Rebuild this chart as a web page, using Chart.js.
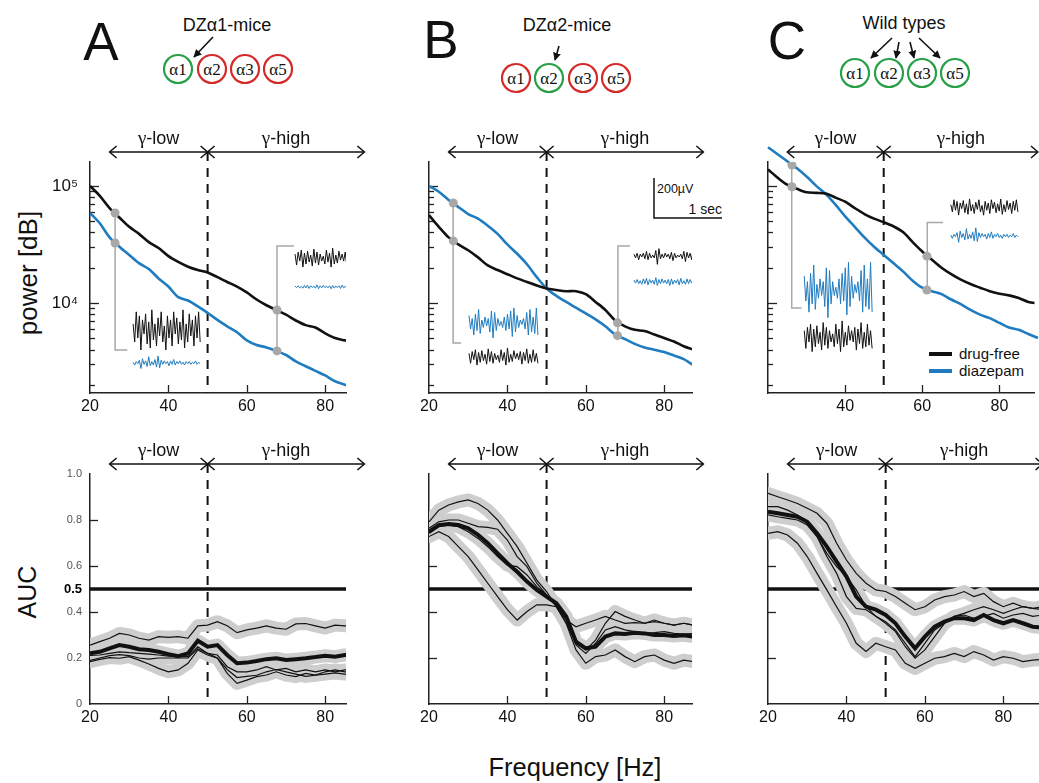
<!DOCTYPE html>
<html>
<head>
<meta charset="utf-8">
<script src="https://cdn.jsdelivr.net/npm/chart.js@4.4.1/dist/chart.umd.min.js"></script>
<style>
  html, body { margin: 0; padding: 0; background: #fff; }
  #fig { position: relative; width: 1039px; height: 783px; overflow: hidden; }
  #fig canvas { position: absolute; }
  #fig svg { position: absolute; left: 0; top: 0; }
</style>
</head>
<body>
<div id="fig">
<svg width="1039" height="783" xmlns="http://www.w3.org/2000/svg">
  <defs>
    <marker id="ah" viewBox="0 0 10 10" refX="9" refY="5" markerWidth="8" markerHeight="8" orient="auto" markerUnits="userSpaceOnUse">
      <path d="M0,0 L10,5 L0,10 z" fill="#111"/>
    </marker>
  </defs>
  <g font-family="'Liberation Sans', Arial, sans-serif" fill="#111">
    <text x="101" y="60" font-size="53" text-anchor="middle">A</text>
    <text x="441" y="58" font-size="53" text-anchor="middle">B</text>
    <text x="787" y="59" font-size="53" text-anchor="middle">C</text>
    <text x="227" y="31" font-size="18" text-anchor="middle">DZα1-mice</text>
    <text x="567" y="31" font-size="18" text-anchor="middle">DZα2-mice</text>
    <text x="904" y="29" font-size="18" text-anchor="middle">Wild types</text>
    <text transform="translate(37,273) rotate(-90)" font-size="26" text-anchor="middle">power [dB]</text>
    <text transform="translate(36,592) rotate(-90)" font-size="25" text-anchor="middle">AUC</text>
    <text x="575" y="776" font-size="25.5" text-anchor="middle">Frequency [Hz]</text>
    <!-- scale bar (panel B) -->
    <path d="M654,178 V218 H722" fill="none" stroke="#111" stroke-width="1.5"/>
    <text x="657" y="193" font-size="12.5">200µV</text>
    <text x="722" y="214" font-size="14" text-anchor="end">1 sec</text>
    <!-- legend (panel C) -->
    <line x1="929" y1="354" x2="952" y2="354" stroke="#111" stroke-width="4"/>
    <line x1="929" y1="371" x2="952" y2="371" stroke="#1f7cc0" stroke-width="4"/>
    <text x="959" y="359" font-size="15">drug-free</text>
    <text x="959" y="376" font-size="15">diazepam</text>
  </g>
  <g fill="#fff" stroke-width="2.2">
    <circle cx="178" cy="69" r="14" stroke="#27a047"/>
    <circle cx="212" cy="69" r="14" stroke="#d42a2a"/>
    <circle cx="245" cy="69" r="14" stroke="#d42a2a"/>
    <circle cx="278" cy="69" r="14" stroke="#d42a2a"/>
    <circle cx="516" cy="78" r="14" stroke="#d42a2a"/>
    <circle cx="549" cy="78" r="14" stroke="#27a047"/>
    <circle cx="583" cy="78" r="14" stroke="#d42a2a"/>
    <circle cx="616" cy="78" r="14" stroke="#d42a2a"/>
    <circle cx="855" cy="73" r="14" stroke="#27a047"/>
    <circle cx="889" cy="73" r="14" stroke="#27a047"/>
    <circle cx="922" cy="73" r="14" stroke="#27a047"/>
    <circle cx="955" cy="73" r="14" stroke="#27a047"/>
  </g>
  <g font-family="'Liberation Serif', 'Times New Roman', serif" font-size="17" fill="#111" text-anchor="middle">
    <text x="178" y="75">α1</text><text x="212" y="75">α2</text><text x="245" y="75">α3</text><text x="278" y="75">α5</text>
    <text x="516" y="84">α1</text><text x="549" y="84">α2</text><text x="583" y="84">α3</text><text x="616" y="84">α5</text>
    <text x="855" y="79">α1</text><text x="889" y="79">α2</text><text x="922" y="79">α3</text><text x="955" y="79">α5</text>
  </g>
  <g stroke="#111" stroke-width="1.6" marker-end="url(#ah)">
    <line x1="213" y1="37" x2="194" y2="57"/>
    <line x1="559" y1="46" x2="555" y2="60"/>
    <line x1="892" y1="38" x2="871" y2="58"/>
    <line x1="899" y1="42" x2="896" y2="58"/>
    <line x1="910" y1="42" x2="914" y2="58"/>
    <line x1="919" y1="38" x2="940" y2="58"/>
  </g>
</svg>
<canvas id="topA" width="355" height="308" style="left:20px;top:110px"></canvas>
<canvas id="topB" width="361" height="308" style="left:359px;top:110px"></canvas>
<canvas id="topC" width="341" height="308" style="left:698px;top:110px"></canvas>
<canvas id="aucA" width="355" height="310" style="left:20px;top:420px"></canvas>
<canvas id="aucB" width="361" height="310" style="left:359px;top:420px"></canvas>
<canvas id="aucC" width="341" height="310" style="left:698px;top:420px"></canvas>
</div>
<script>
// frequency grid (Hz)
const freq = [20, 22.5, 25, 27.5, 30, 32.5, 35, 37.5, 40, 42.5, 45, 47.5, 50, 52.5, 55, 57.5,
              60, 62.5, 65, 67.5, 70, 72.5, 75, 77.5, 80, 82.5, 85, 87.5, 90];

// power spectra
const powerFreeA = [100000, 82200, 64600, 53700, 44700, 38900, 33100, 29500, 25100, 22400, 20400, 19100, 18200, 16600, 15100,
                    13800, 12300, 10700, 9550, 8710, 7940, 7080, 6460, 6170, 5500, 5010, 4790, 4570, 4370];
const powerDzpA  = [58900, 47900, 36300, 30200, 25700, 21900, 19500, 16200, 13800, 11200, 10500, 9330, 8220, 7160, 6310,
                    5620, 4790, 4370, 4170, 3890, 3590, 3160, 2880, 2630, 2400, 2140, 2000, 1860, 1740];
const powerFreeB = [56200, 44700, 36300, 31600, 28200, 24500, 20900, 19100, 17600, 16200, 15100, 14100, 13300, 12900, 12600,
                    12600, 11900, 10200, 8710, 7080, 6310, 5890, 5750, 5370, 5010, 4680, 4270, 3980, 3720];
const powerDzpB  = [100000, 89100, 75900, 66100, 57500, 52500, 45700, 38900, 31600, 26300, 21400, 16600, 13300, 11500, 10200,
                    9120, 8130, 7240, 6310, 5370, 4900, 4470, 4170, 3980, 3800, 3550, 3310, 2950, 2750];
const powerFreeC = [138000, 117500, 102300, 94400, 88100, 87100, 86100, 79400, 73300, 64600, 57500, 52500, 49000, 45200, 40300,
                    33100, 27500, 23400, 20000, 17600, 15800, 14500, 13500, 12600, 12000, 11600, 11000, 10200, 9890];
const powerDzpC  = [213800, 186200, 162200, 141300, 120200, 100000, 85100, 69200, 55000, 44700, 36300, 30200, 25700, 21900, 18600,
                    15500, 13500, 12600, 11900, 10700, 9770, 8710, 7940, 7410, 6760, 6170, 5890, 5430, 5010];

// grey markers on the spectra [Hz, power]
const dotsA = [[26.4, 58600], [26.4, 32500], [67.7, 8710], [67.7, 3890]];
const dotsB = [[26.2, 71400], [26.2, 33900], [68.1, 6760], [68.1, 5250]];
const dotsC = [[26.2, 150700], [26.2, 98400], [61.2, 25100], [61.2, 12900]];
const bracketsA = [[[26.4, 58600], [26.4, 3960], [29.5, 3960]], [[67.7, 3890], [67.7, 30700], [72.05, 30700]]];
const bracketsB = [[[26.15, 71400], [26.15, 4550], [28.2, 4550]], [[68.2, 5250], [68.2, 30700], [71.3, 30700]]];
const bracketsC = [[[26.15, 150700], [26.15, 9060], [28.7, 9060]], [[61.3, 12900], [61.3, 48600], [65.4, 48600]]];

// example EEG snippets (normalised)
const eeg1 = [0.3,-0.6,0.9,-0.4,0.7,-1.0,0.5,-0.2,0.8,-0.7,0.4,-0.9,1.0,-0.5,0.3,-0.8,0.6,-0.3,0.9,-0.6,0.2,-1.0,
              0.7,-0.4,0.5,-0.8,0.9,-0.2,0.6,-0.7,0.4,-0.5,1.0,-0.9,0.3,-0.6,0.8,-0.3,0.5,-0.8,0.7,-0.4,0.9,-0.6];
const eeg2 = [0.1,-0.3,0.2,-0.1,0.4,-0.8,0.6,-0.2,0.3,-0.5,0.9,-0.4,0.2,-0.3,0.5,-0.6,1.0,-0.7,0.4,-0.2,0.3,-0.1,
              0.2,-0.4,0.3,-0.2,0.5,-0.3,0.2,-0.1,0.3,-0.2,0.1,-0.3,0.2,-0.1,0.2,-0.2,0.1,-0.1,0.3,-0.2,0.1,-0.1];
const eeg3 = [0.5,-0.4,0.3,-0.8,0.6,-0.5,0.9,-0.7,0.2,-0.3,0.4,-0.2,0.3,-0.6,0.8,-1.0,0.7,-0.5,0.3,-0.2,0.1,-0.3,
              0.4,-0.5,0.6,-0.4,0.8,-0.9,1.0,-0.6,0.5,-0.3,0.2,-0.1,0.3,-0.4,0.7,-0.8,0.9,-0.6,0.4,-0.7,1.0,-0.8];
const eeg4 = [0.2,-0.2,0.3,-0.4,0.2,-0.1,0.3,-0.3,0.5,-0.4,0.3,-0.2,0.1,-0.2,0.6,-0.9,0.8,-0.3,0.2,-0.2,0.3,-0.1,
              0.2,-0.3,0.4,-0.5,0.3,-0.2,0.1,-0.1,0.2,-0.3,0.5,-0.6,0.4,-0.2,0.3,-0.4,0.8,-0.7,0.9,-0.5,0.3,-0.2];
const eeg5 = [0.4,-0.7,0.6,-0.3,0.8,-0.9,0.5,-0.6,0.7,-0.4,0.3,-0.8,0.9,-0.5,0.6,-0.7,0.4,-0.3,0.2,-0.6,0.8,-0.4,
              0.5,-0.9,1.0,-0.6,0.3,-0.5,0.7,-0.2,0.4,-0.3,0.6,-0.8,0.5,-0.4,0.9,-0.7,0.3,-0.6,0.8,-0.5,0.4,-0.7];
const eeg6 = [0.3,-0.2,0.4,-0.3,0.2,-0.4,0.5,-0.3,0.6,-0.5,0.4,-0.2,0.3,-0.4,0.7,-0.6,0.4,-0.3,0.5,-0.2,0.3,-0.3,
              0.4,-0.6,0.5,-0.4,0.3,-0.2,0.4,-0.5,0.6,-0.3,0.2,-0.4,0.5,-0.3,0.4,-0.2,0.3,-0.5,0.6,-0.4,0.3,-0.2];

// AUC curves: mean (thick) and individual animals
const aucMeanA = [0.22,0.227,0.242,0.256,0.249,0.238,0.235,0.227,0.217,0.208,0.22,0.275,0.249,0.256,0.213,0.177,0.18,0.187,0.195,0.199,0.191,0.195,0.199,0.204,0.21,0.206,0.213,0.21,0.21];
const aucA1 = [0.256,0.271,0.286,0.307,0.3,0.286,0.278,0.293,0.29,0.293,0.286,0.34,0.343,0.358,0.34,0.31,0.322,0.33,0.34,0.33,0.325,0.348,0.35,0.34,0.33,0.343,0.34,0.34,0.34];
const aucA2 = [0.184,0.194,0.202,0.199,0.206,0.191,0.174,0.155,0.14,0.148,0.177,0.235,0.213,0.199,0.133,0.09,0.104,0.119,0.126,0.14,0.126,0.119,0.133,0.126,0.14,0.148,0.14,0.14,0.14];
const aucA3 = [0.211,0.213,0.22,0.227,0.223,0.22,0.217,0.213,0.208,0.206,0.206,0.249,0.22,0.213,0.162,0.14,0.14,0.148,0.162,0.148,0.155,0.14,0.148,0.14,0.148,0.14,0.148,0.148,0.148];
const aucA4 = [0.19,0.2,0.21,0.215,0.21,0.2,0.195,0.2,0.2,0.2,0.2,0.24,0.22,0.2,0.15,0.115,0.12,0.125,0.14,0.15,0.14,0.13,0.12,0.125,0.13,0.135,0.13,0.13,0.13];

const aucMeanB = [0.749,0.778,0.783,0.778,0.764,0.735,0.699,0.655,0.612,0.575,0.532,0.496,0.467,0.438,0.381,0.271,0.242,0.249,0.293,0.307,0.304,0.31,0.307,0.3,0.3,0.296,0.299,0.293,0.29];
const aucB1 = [0.792,0.843,0.865,0.879,0.887,0.872,0.843,0.8,0.742,0.684,0.612,0.539,0.489,0.423,0.365,0.336,0.351,0.365,0.381,0.365,0.351,0.354,0.351,0.358,0.351,0.343,0.351,0.343,0.345];
const aucB2 = [0.728,0.749,0.728,0.684,0.641,0.583,0.525,0.467,0.41,0.365,0.402,0.431,0.431,0.423,0.351,0.235,0.177,0.206,0.213,0.235,0.206,0.184,0.206,0.213,0.191,0.177,0.191,0.184,0.19];
const aucB3 = [0.764,0.792,0.8,0.8,0.786,0.771,0.768,0.76,0.713,0.641,0.597,0.525,0.474,0.423,0.351,0.264,0.235,0.278,0.351,0.402,0.381,0.365,0.351,0.365,0.351,0.343,0.351,0.343,0.345];
const aucB4 = [0.742,0.771,0.778,0.771,0.749,0.72,0.684,0.641,0.604,0.597,0.561,0.51,0.474,0.431,0.373,0.257,0.22,0.264,0.322,0.336,0.322,0.315,0.307,0.31,0.315,0.307,0.304,0.307,0.31];

const aucMeanC = [0.836,0.829,0.822,0.814,0.792,0.742,0.684,0.619,0.554,0.467,0.423,0.41,0.387,0.351,0.293,0.242,0.293,0.336,0.358,0.373,0.373,0.365,0.387,0.365,0.351,0.365,0.351,0.336,0.333];
const aucC1 = [0.916,0.901,0.887,0.872,0.851,0.829,0.786,0.699,0.626,0.568,0.525,0.496,0.489,0.467,0.438,0.41,0.423,0.452,0.467,0.474,0.489,0.467,0.481,0.445,0.423,0.438,0.423,0.416,0.423];
const aucC2 = [0.742,0.749,0.735,0.699,0.641,0.568,0.496,0.423,0.351,0.264,0.228,0.264,0.249,0.235,0.177,0.155,0.177,0.199,0.206,0.22,0.206,0.228,0.213,0.191,0.206,0.199,0.184,0.191,0.194];
const aucC3 = [0.858,0.858,0.843,0.822,0.786,0.728,0.655,0.597,0.554,0.496,0.423,0.381,0.358,0.322,0.264,0.206,0.264,0.322,0.351,0.381,0.394,0.41,0.423,0.41,0.394,0.41,0.423,0.416,0.41];
const aucC4 = [0.822,0.814,0.807,0.8,0.778,0.728,0.641,0.568,0.467,0.416,0.41,0.381,0.351,0.315,0.249,0.199,0.235,0.293,0.351,0.381,0.387,0.373,0.381,0.394,0.373,0.387,0.394,0.381,0.387];

const chanceLevel = [[20, 0.5], [90, 0.5]];
const freqLabels = [20, 40, 60, 80];
const aucLabels = [0, 0.2, 0.4, 0.5, 0.6, 0.8, 1.0];
const powerLabels = [10000, 100000];

const BLACK = '#111111', BLUE = '#1f7cc0', GREY = '#a8a8a8', BAND = '#cecece';
const FONT = '"Liberation Sans", Arial, sans-serif';
const SERIF = '"Liberation Serif", "Times New Roman", serif';
Chart.defaults.font.family = FONT;
Chart.defaults.color = '#111';

// where the EEG snippets sit inside each spectrum panel (x in Hz, y in % of plot height)
const snippetsA = [
  {s: eeg1, f0: 31.0, f1: 48.1, base: 27.3, gain: 8.7, color: BLACK},
  {s: eeg2, f0: 31.0, f1: 48.1, base: 13.0, gain: 3.0, color: BLUE},
  {s: eeg5, f0: 72.3, f1: 89.5, base: 58.4, gain: 4.3, color: BLACK},
  {s: eeg6, f0: 72.3, f1: 89.5, base: 45.9, gain: 1.3, color: BLUE}
];
const snippetsB = [
  {s: eeg3, f0: 30.2, f1: 47.8, base: 30.3, gain: 6.5, color: BLUE},
  {s: eeg5, f0: 30.2, f1: 47.8, base: 15.6, gain: 3.9, color: BLACK},
  {s: eeg4, f0: 72.3, f1: 89.4, base: 59.3, gain: 4.0, color: BLACK},
  {s: eeg6, f0: 72.3, f1: 89.4, base: 48.1, gain: 2.6, color: BLUE}
];
const snippetsC = [
  {s: eeg3, f0: 29.4, f1: 47.0, base: 44.6, gain: 12, color: BLUE},
  {s: eeg5, f0: 29.4, f1: 47.0, base: 24.2, gain: 7, color: BLACK},
  {s: eeg1, f0: 67.4, f1: 84.8, base: 80.5, gain: 3.5, color: BLACK},
  {s: eeg2, f0: 67.4, f1: 84.8, base: 68.0, gain: 3.5, color: BLUE}
];

const xy = (xs, ys) => xs.map((x, i) => ({x, y: ys[i]}));
const pairs = arr => arr.map(([x, y]) => ({x, y}));

const logTicks = [];
for (let d = 3; d <= 5; d++) {
  for (let k = 1; k <= 9; k++) {
    const v = k * Math.pow(10, d);
    if (v >= 1700 && v <= 160000) logTicks.push({v, len: k === 1 ? 9 : 5});
  }
}
const aucTicks = [0.2, 0.4, 0.6, 0.8].map(v => ({v, len: 8}));

// "γ" in a serif face followed by the band name in sans, centred on cx
function bandLabel(ctx, rest, cx, y) {
  ctx.font = '19px ' + SERIF;
  const wg = ctx.measureText('γ').width;
  ctx.font = '18px ' + FONT;
  const wr = ctx.measureText(rest).width;
  const left = cx - (wg + wr) / 2;
  ctx.textAlign = 'left';
  ctx.font = '19px ' + SERIF;
  ctx.fillText('γ', left, y);
  ctx.font = '18px ' + FONT;
  ctx.fillText(rest, left + wg, y);
}

// inward ticks, gamma band arrows and the 50 Hz divider
const deco = {
  id: 'deco',
  beforeDatasetsDraw(chart, args, o) {
    const {ctx, chartArea: a, scales: {x, y}} = chart;
    ctx.save();
    ctx.strokeStyle = '#222';
    ctx.lineWidth = 1.3;
    o.yTicks.forEach(t => {
      const py = Math.round(y.getPixelForValue(t.v)) + 0.5;
      ctx.beginPath(); ctx.moveTo(a.left, py); ctx.lineTo(a.left + t.len, py); ctx.stroke();
    });
    o.xTicks.forEach(v => {
      const px = Math.round(x.getPixelForValue(v)) + 0.5;
      ctx.beginPath(); ctx.moveTo(px, a.bottom); ctx.lineTo(px, a.bottom - 8); ctx.stroke();
    });
    const xm = x.getPixelForValue(50), x0 = x.getPixelForValue(25), x2 = x.getPixelForValue(90);
    const ay = a.top - 10;
    ctx.strokeStyle = '#111';
    ctx.lineWidth = 2;
    ctx.setLineDash([9, 7]);
    ctx.beginPath(); ctx.moveTo(xm, ay); ctx.lineTo(xm, a.bottom); ctx.stroke();
    ctx.setLineDash([]);
    ctx.lineWidth = 1.5;
    ctx.beginPath(); ctx.moveTo(x0, ay); ctx.lineTo(x2, ay); ctx.stroke();
    const head = (px, dir) => {
      ctx.beginPath();
      ctx.moveTo(px - dir * 7, ay - 6); ctx.lineTo(px, ay); ctx.lineTo(px - dir * 7, ay + 6);
      ctx.stroke();
    };
    head(x0, -1); head(xm, 1); head(xm, -1); head(x2, 1);
    ctx.fillStyle = '#111';
    ctx.textBaseline = 'alphabetic';
    bandLabel(ctx, '-low', (x0 + xm) / 2, ay - 8);
    bandLabel(ctx, '-high', (xm + x2) / 2, ay - 8);
    ctx.restore();
  }
};

function xScale(max, labels, h) {
  return {
    type: 'linear', min: 20, max,
    grid: {display: false, drawTicks: false},
    border: {display: true, color: '#222', width: 1.5},
    afterBuildTicks: s => { s.ticks = labels.map(v => ({value: v})); },
    afterFit: s => { s.height = h; },
    ticks: {padding: 4, color: '#111', font: {size: 16}, maxRotation: 0, autoSkip: false}
  };
}

function powerScale(showLabels) {
  return {
    type: 'logarithmic', min: 1700, max: 160000,
    grid: {display: false, drawTicks: false},
    border: {display: true, color: '#222', width: 1.5},
    afterBuildTicks: s => { s.ticks = powerLabels.map(v => ({value: v})); },
    afterFit: s => { s.width = 70; },
    ticks: {
      display: showLabels, padding: 12, color: '#111', font: {size: 17},
      callback: v => v === 100000 ? '10⁵' : (v === 10000 ? '10⁴' : '')
    }
  };
}

function aucScale(showLabels) {
  return {
    type: 'linear', min: 0, max: 1,
    grid: {display: false, drawTicks: false},
    border: {display: true, color: '#222', width: 1.5},
    afterBuildTicks: s => { s.ticks = aucLabels.map(v => ({value: v})); },
    afterFit: s => { s.width = 70; },
    ticks: {
      display: showLabels, padding: 8,
      callback: v => v === 0 ? '0' : v.toFixed(1),
      font: c => (c.tick && c.tick.value === 0.5) ? {size: 13, weight: 'bold'} : {size: 11},
      color: c => (c.tick && c.tick.value === 0.5) ? '#000' : '#555'
    }
  };
}

function spectrumDatasets(free, dzp, dots, brackets, snippets, dzpUnclipped) {
  const ds = [];
  ds.push({data: pairs(dots), showLine: false, pointRadius: 4.5, pointBackgroundColor: GREY, pointBorderWidth: 0, order: 0});
  ds.push({data: xy(freq, free), borderColor: BLACK, borderWidth: 2.6, tension: 0.3, order: 1});
  const blue = {data: xy(freq, dzp), borderColor: BLUE, borderWidth: 2.6, tension: 0.3, order: 1};
  if (dzpUnclipped) blue.clip = false;
  ds.push(blue);
  brackets.forEach(b => ds.push({data: pairs(b), borderColor: GREY, borderWidth: 1.5, order: 3}));
  snippets.forEach(t => ds.push({
    data: t.s.map((v, i) => ({x: t.f0 + i * (t.f1 - t.f0) / (t.s.length - 1), y: t.base + t.gain * v})),
    yAxisID: 'ty', borderColor: t.color, borderWidth: 1, order: 2
  }));
  return ds;
}

function aucDatasets(mean, animals) {
  const ds = [{data: xy(freq, mean), borderColor: BLACK, borderWidth: 4, order: 0}];
  animals.forEach(l => ds.push({data: xy(freq, l), borderColor: BLACK, borderWidth: 1.2, order: 1}));
  [mean].concat(animals).forEach(l => ds.push({
    data: xy(freq, l), borderColor: BAND, borderWidth: 13,
    borderJoinStyle: 'round', borderCapStyle: 'round', order: 5
  }));
  ds.push({data: pairs(chanceLevel), borderColor: BLACK, borderWidth: 3.5, order: 8});
  return ds;
}

function makeChart(id, o) {
  return new Chart(document.getElementById(id), {
    type: 'line',
    data: {datasets: o.datasets},
    options: {
      responsive: false, animation: false, events: [],
      layout: {padding: {top: o.padTop, right: o.padRight, left: 0, bottom: 0}},
      elements: {point: {radius: 0}, line: {tension: 0}},
      plugins: {legend: {display: false}, tooltip: {enabled: false}, deco: o.deco},
      scales: o.scales
    },
    plugins: [deco]
  });
}

const hidden = {type: 'linear', min: 0, max: 100, display: false};

makeChart('topA', {
  padTop: 52, padRight: 29,
  datasets: spectrumDatasets(powerFreeA, powerDzpA, dotsA, bracketsA, snippetsA, false),
  scales: {x: xScale(85.3, freqLabels, 25), y: powerScale(true), ty: hidden},
  deco: {yTicks: logTicks, xTicks: [40, 60, 80]}
});
makeChart('topB', {
  padTop: 52, padRight: 28,
  datasets: spectrumDatasets(powerFreeB, powerDzpB, dotsB, bracketsB, snippetsB, false),
  scales: {x: xScale(87.1, freqLabels, 25), y: powerScale(false), ty: hidden},
  deco: {yTicks: logTicks, xTicks: [40, 60, 80]}
});
makeChart('topC', {
  padTop: 52, padRight: 0,
  datasets: spectrumDatasets(powerFreeC, powerDzpC, dotsC, bracketsC, snippetsC, true),
  scales: {x: xScale(89.1, [40, 60, 80], 25), y: powerScale(false), ty: hidden},
  deco: {yTicks: logTicks, xTicks: [40, 60, 80]}
});

makeChart('aucA', {
  padTop: 54, padRight: 29,
  datasets: aucDatasets(aucMeanA, [aucA1, aucA2, aucA3, aucA4]),
  scales: {x: xScale(85.3, freqLabels, 26), y: aucScale(true)},
  deco: {yTicks: aucTicks, xTicks: [40, 60, 80]}
});
makeChart('aucB', {
  padTop: 54, padRight: 28,
  datasets: aucDatasets(aucMeanB, [aucB1, aucB2, aucB3, aucB4]),
  scales: {x: xScale(87.1, freqLabels, 26), y: aucScale(false)},
  deco: {yTicks: aucTicks, xTicks: [40, 60, 80]}
});
makeChart('aucC', {
  padTop: 54, padRight: 0,
  datasets: aucDatasets(aucMeanC, [aucC1, aucC2, aucC3, aucC4]),
  scales: {x: xScale(89.1, freqLabels, 26), y: aucScale(false)},
  deco: {yTicks: aucTicks, xTicks: [40, 60, 80]}
});
</script>
</body>
</html>
